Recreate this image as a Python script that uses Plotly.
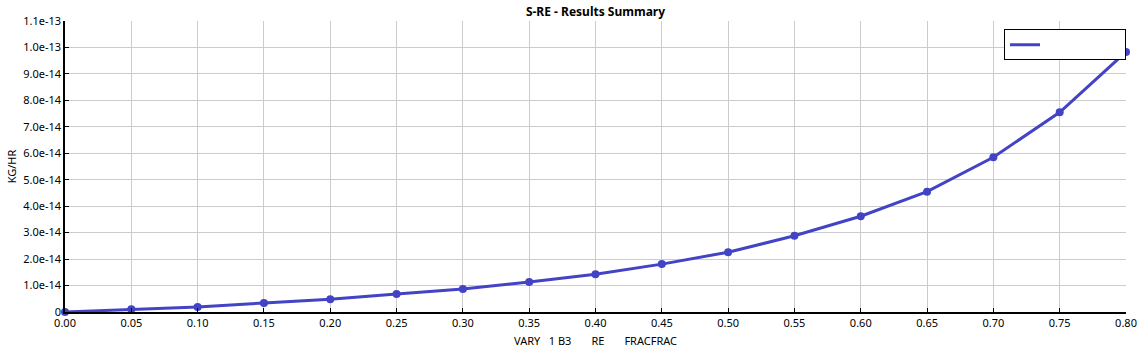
import plotly.graph_objects as go

x_vals = [0.00, 0.05, 0.10, 0.15, 0.20, 0.25, 0.30, 0.35, 0.40, 0.45, 0.50, 0.55, 0.60, 0.65, 0.70, 0.75, 0.80]
y_vals = [0.0, 0.10e-14, 0.19e-14, 0.34e-14, 0.48e-14, 0.68e-14, 0.87e-14, 1.13e-14, 1.43e-14, 1.81e-14,
          2.26e-14, 2.88e-14, 3.62e-14, 4.55e-14, 5.85e-14, 7.55e-14, 9.83e-14]
x_ticks = [round(i * 0.05, 2) for i in range(17)]
x_tick_text = [f"{v:.2f}" for v in x_ticks]
y_ticks = [i * 1e-14 for i in range(12)]
y_tick_text = ["0"] + [f"{i}.0e-14" for i in range(1, 10)] + ["1.0e-13", "1.1e-13"]

title_text = "S-RE - Results Summary"
x_title = "VARY\u00a0\u00a0\u00a01 B3\u00a0\u00a0\u00a0\u00a0\u00a0\u00a0\u00a0RE\u00a0\u00a0\u00a0\u00a0\u00a0\u00a0\u00a0FRACFRAC"
y_title = "KG/HR"
legend_name = "\u00a0" * 36

color = "#4343c6"
font_family = "Noto Sans, Open Sans, sans-serif"

fig = go.Figure()
fig.add_trace(go.Scatter(
    x=x_vals, y=y_vals, mode="lines", name=legend_name,
    line=dict(color=color, width=3),
    showlegend=True,
))
fig.add_trace(go.Scatter(
    x=x_vals, y=y_vals, mode="markers", name="",
    marker=dict(color=color, size=8),
    showlegend=False, cliponaxis=False,
))

fig.update_layout(
    width=1138, height=357,
    margin=dict(l=65, r=12, t=21, b=45, autoexpand=False),
    paper_bgcolor="white", plot_bgcolor="white",
    font=dict(family=font_family, size=11, color="black"),
    title=dict(text="<b>" + title_text + "</b>", x=0.5, xref="paper", xanchor="center",
               y=1 - 12 / 357, yref="container", yanchor="middle", automargin=False,
               font=dict(size=12, color="black")),
    legend=dict(x=1, xanchor="right", y=0.972, yanchor="top", bordercolor="black", borderwidth=1,
                bgcolor="white", font=dict(size=8), itemwidth=30),
    xaxis=dict(range=[0, 0.8], tickvals=x_ticks, ticktext=x_tick_text, automargin=False,
               showgrid=True, gridcolor="#cccccc", gridwidth=1,
               showline=True, linecolor="black", linewidth=1.5,
               ticks="inside", ticklen=4, tickcolor="black",
               title=dict(text=x_title, standoff=8, font=dict(size=11)),
               zeroline=False),
    yaxis=dict(range=[0, 1.1e-13], tickvals=y_ticks, ticktext=y_tick_text, automargin=False,
               showgrid=True, gridcolor="#cccccc", gridwidth=1,
               showline=True, linecolor="black", linewidth=1.5,
               ticks="inside", ticklen=4, tickcolor="black",
               title=dict(text=y_title, standoff=4, font=dict(size=11)),
               zeroline=False),
)

fig.write_html("out.html", config={"displayModeBar": False},
               post_script="document.body.style.margin='0';")
